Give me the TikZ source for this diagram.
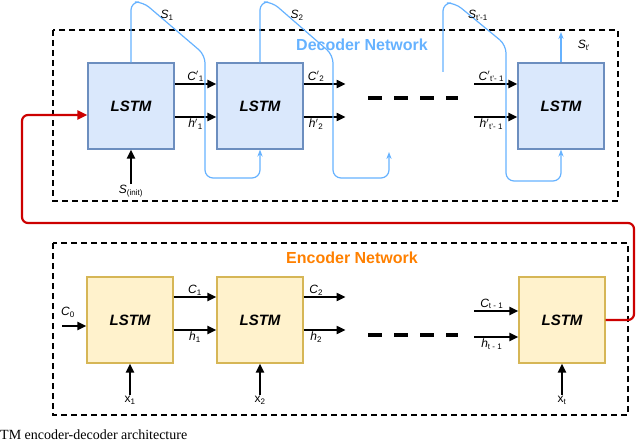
\documentclass[tikz,border=0pt]{standalone}
\usepackage{fontspec}
\setmainfont{Liberation Sans}
\usetikzlibrary{arrows.meta}
\definecolor{decfill}{HTML}{DAE8FC}
\definecolor{decdraw}{HTML}{6C8EBF}
\definecolor{encfill}{HTML}{FFF2CC}
\definecolor{encdraw}{HTML}{D6B656}
\definecolor{sblue}{HTML}{66B2FF}
\definecolor{ored}{HTML}{CC0000}
\definecolor{eorange}{HTML}{FF8000}
\newcommand{\lb}[2]{\textit{#1}\textsubscript{#2}}
\begin{document}
\begin{tikzpicture}[x=1pt,y=-1pt,
    dec/.style={draw=decdraw,fill=decfill,line width=1.2pt,minimum width=86pt,minimum height=86pt,font=\fontsize{15}{18}\selectfont\bfseries\itshape},
    enc/.style={draw=encdraw,fill=encfill,line width=1.2pt,minimum width=86pt,minimum height=86pt,font=\fontsize{15}{18}\selectfont\bfseries\itshape},
    frame/.style={draw,line width=1.5pt,dash pattern=on 6pt off 4pt},
    arr/.style={-{Triangle[length=9pt,width=8pt]},line width=2pt},
    sline/.style={draw=sblue,line width=1.2pt,rounded corners=8pt},
    lab/.style={font=\fontsize{12}{14}\selectfont,inner sep=1pt},
    ]
  \useasboundingbox (0,0) rectangle (640,444);
  % frames
  \draw[frame] (53,30) rectangle (618,201);
  \draw[frame] (53,243) rectangle (628,415);
  \node[text=sblue,font=\fontsize{16}{19}\selectfont\bfseries] (dlab) at (362,45) {Decoder Network};
  \node[text=eorange,font=\fontsize{16}{19}\selectfont\bfseries] (elab) at (352,258) {Encoder Network};
  % decoder
  \node[dec] (d1) at (131,106) {LSTM};
  \node[dec] (d2) at (260,106) {LSTM};
  \node[dec] (d3) at (561,106) {LSTM};
  \coordinate (d2c) at (217,84); \coordinate (d2h) at (217,117);
  \draw[arr] (d1.east |- d2c) -- (d2.west |- d2c) node[lab,midway,above] {\lb{C$'$}{1}};
  \draw[arr] (d1.east |- d2h) -- (d2.west |- d2h) node[lab,midway,below] {\lb{h$'$}{1}};
  \coordinate (c2e) at (259,84); \coordinate (h2e) at (259,117);
  \draw[arr] (d2.east |- c2e) -- ++(42,0) node[lab,pos=0.3,above] {\lb{C$'$}{2}};
  \draw[arr] (d2.east |- h2e) -- ++(42,0) node[lab,pos=0.3,below] {\lb{h$'$}{2}};
  \coordinate (ct) at (474,84); \coordinate (ht) at (474,117);
  \draw[arr] (ct) -- (d3.west |- ct) node[lab,pos=0.4,above] {\lb{C$'$}{t'- 1}};
  \draw[arr] (ht) -- (d3.west |- ht) node[lab,pos=0.4,below] {\lb{h$'$}{t'- 1}};
  \draw[line width=4pt,dash pattern=on 14pt off 12pt] (368,98) -- (458,98);
  \coordinate (si) at (131,184);
  \draw[arr] (si) -- (d1.south) ;
  \node[lab,below] (sil) at (si) {\lb{S}{(init)}};
  % blue state loops
  \draw[sline,-{Stealth[length=7pt]}] (d1.north) -- (131,2) -- (143,2) -- (205,55) -- (205,178) -- (260,178) -- (d2.south);
  \draw[sline,-{Stealth[length=7pt]}] (d2.north) -- (260,2) -- (272,2) -- (333,55) -- (333,178) -- (389,178) -- (389,152);
  \draw[sline,-{Stealth[length=7pt]}] (443,72) -- (443,3) -- (455,3) -- (506,45) -- (506,181) -- (561,181) -- (d3.south);
  \draw[sblue,line width=1.2pt,-{Stealth[length=7pt]}] (d3.north) -- (561,32);
  \node[lab] (s1) at (167,15) {\lb{S}{1}};
  \node[lab] (s2) at (297,15) {\lb{S}{2}};
  \node[lab] (s3) at (478,15) {\lb{S}{t'-1}};
  \node[lab] (s4) at (584,45) {\lb{S}{t'}};
  % encoder
  \node[enc] (e1) at (130,320) {LSTM};
  \node[enc] (e2) at (260,320) {LSTM};
  \node[enc] (e3) at (562,320) {LSTM};
  \coordinate (ec) at (217,297); \coordinate (eh) at (217,330);
  \draw[arr] (e1.east |- ec) -- (e2.west |- ec) node[lab,midway,above] {\lb{C}{1}};
  \draw[arr] (e1.east |- eh) -- (e2.west |- eh) node[lab,midway,below] {\lb{h}{1}};
  \draw[arr] (e2.east |- ec) -- ++(42,0) node[lab,pos=0.3,above] {\lb{C}{2}};
  \draw[arr] (e2.east |- eh) -- ++(42,0) node[lab,pos=0.3,below] {\lb{h}{2}};
  \coordinate (ect) at (474,311); \coordinate (eht) at (474,337);
  \draw[arr] (ect) -- (e3.west |- ect) node[lab,pos=0.4,above] {\lb{C}{t - 1}};
  \draw[arr] (eht) -- (e3.west |- eht) node[lab,pos=0.4,below] {\lb{h}{t - 1}};
  \draw[line width=4pt,dash pattern=on 14pt off 12pt] (368,335) -- (458,335);
  \coordinate (c0) at (62,326);
  \draw[arr] (c0) -- (e1.west |- c0);
  \node[lab] (c0l) at (68,312) {\lb{C}{0}};
  \coordinate (x1) at (130,395); \coordinate (x2) at (260,395); \coordinate (xt) at (562,395);
  \draw[arr] (x1) -- (e1.south); \node[lab,below] (x1l) at (x1) {x\textsubscript{1}};
  \draw[arr] (x2) -- (e2.south); \node[lab,below] (x2l) at (x2) {x\textsubscript{2}};
  \draw[arr] (xt) -- (e3.south); \node[lab,below] (xtl) at (xt) {x\textsubscript{t}};
  % context link
  \coordinate (rin) at (0,115);
  \draw[ored,line width=2.2pt,rounded corners=6pt,-{Triangle[length=10pt,width=9pt]}]
    (e3.east) -- (634,320) -- (634,223) -- (22,223) -- (22,115) -- (d1.west |- rin);
  % caption
  \node[anchor=north west,font=\fontspec{Liberation Serif}\fontsize{14}{16}\selectfont,inner sep=0pt] (cap) at (0,430) {TM encoder-decoder architecture};
\end{tikzpicture}
\end{document}
